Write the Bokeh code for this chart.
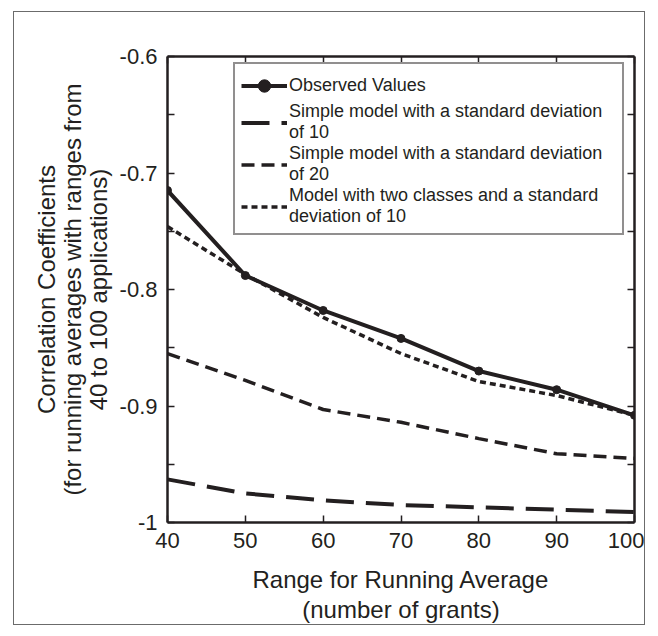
from bokeh.plotting import figure
from bokeh.models import (LinearAxis, FixedTicker, CustomJSTickFormatter, Legend,
                          LegendItem, Range1d, ColumnDataSource)
from bokeh.embed import file_html
from bokeh.resources import INLINE

# ---- data ----
grant_range = [40, 50, 60, 70, 80, 90, 100]
observed = [-0.715, -0.788, -0.818, -0.842, -0.870, -0.886, -0.908]
simple_sd10 = [-0.963, -0.975, -0.981, -0.985, -0.987, -0.989, -0.991]
simple_sd20 = [-0.855, -0.878, -0.903, -0.914, -0.928, -0.941, -0.945]
two_classes = [-0.746, -0.787, -0.824, -0.855, -0.879, -0.891, -0.908]

x_ticks = [40, 50, 60, 70, 80, 90, 100]
y_ticks = [-1.0, -0.9, -0.8, -0.7, -0.6]
y_tick_labels = ["-1", "-0.9", "-0.8", "-0.7", "-0.6"]
y_minor_ticks = [-0.95, -0.85, -0.75, -0.65]

series_labels = [
    "Observed Values",
    "Simple model with a standard deviation\nof 10",
    "Simple model with a standard deviation\nof 20",
    "Model with two classes and a standard\ndeviation of 10",
]

INK = "#231f20"
FONT = "Liberation Sans"

src = ColumnDataSource(dict(x=grant_range, obs=observed, sd10=simple_sd10,
                            sd20=simple_sd20, two=two_classes))

p = figure(width=632, height=614, output_backend="svg", toolbar_location=None,
           x_range=Range1d(40, 100), y_range=Range1d(-1, -0.6),
           x_axis_type=None, y_axis_type=None,
           min_border_left=153, min_border_right=12,
           min_border_top=44, min_border_bottom=103,
           background_fill_color="white", border_fill_color="white")
p.outline_line_color = None
p.styles = {"margin-left": "13px", "margin-top": "11px", "border": "1px solid #6b6b6b"}


def style_axis(ax, show_labels=True):
    ax.axis_line_width = 2.5
    ax.axis_line_color = INK
    ax.major_tick_in = 7
    ax.major_tick_out = 0
    ax.minor_tick_in = 7
    ax.minor_tick_out = 0
    ax.major_tick_line_width = 1.5
    ax.minor_tick_line_width = 1.5
    ax.major_tick_line_color = INK
    ax.minor_tick_line_color = INK
    ax.major_label_text_font = FONT
    ax.major_label_text_color = INK
    ax.major_label_text_font_size = "22px" if show_labels else "0px"
    ax.axis_label_text_font = FONT
    ax.axis_label_text_font_size = "24px"
    ax.axis_label_text_font_style = "normal"
    ax.axis_label_text_color = INK
    if not show_labels:
        ax.formatter = CustomJSTickFormatter(code="return ''")
        ax.major_label_standoff = 0


xb = LinearAxis(ticker=FixedTicker(ticks=x_ticks, minor_ticks=[]),
                axis_label="Range for Running Average\n(number of grants)")
style_axis(xb)
xb.axis_label_text_line_height = 1.14
xb.major_label_standoff = 10
xb.axis_label_standoff = 15
p.add_layout(xb, "below")

xt = LinearAxis(ticker=FixedTicker(ticks=x_ticks, minor_ticks=[]))
style_axis(xt, False)
p.add_layout(xt, "above")

yl = LinearAxis(ticker=FixedTicker(ticks=y_ticks, minor_ticks=y_minor_ticks),
                axis_label="Correlation Coefficients\n(for running averages with ranges from\n40 to 100 applications)")
style_axis(yl)
yl.axis_label_text_line_height = 0.96
yl.major_label_overrides = dict(zip(y_ticks, y_tick_labels))
yl.major_label_standoff = 10
yl.axis_label_standoff = 5
p.add_layout(yl, "left")

yr = LinearAxis(ticker=FixedTicker(ticks=y_ticks, minor_ticks=y_minor_ticks))
style_axis(yr, False)
p.add_layout(yr, "right")

r_sd10 = p.line("x", "sd10", source=src, line_color=INK, line_width=4,
                line_dash="28 12")
r_sd20 = p.line("x", "sd20", source=src, line_color=INK, line_width=3.5,
                line_dash="13 7")
r_obs = p.line("x", "obs", source=src, line_color=INK, line_width=4)
r_obs_pts = p.scatter("x", "obs", source=src, size=8, marker="circle",
                      fill_color=INK, line_color=INK)
r_two = p.line("x", "two", source=src, line_color=INK, line_width=3.5,
               line_dash="6 4")

legend = Legend(items=[
    LegendItem(label=series_labels[0], renderers=[r_obs, r_obs_pts]),
    LegendItem(label=series_labels[1], renderers=[r_sd10]),
    LegendItem(label=series_labels[2], renderers=[r_sd20]),
    LegendItem(label=series_labels[3], renderers=[r_two]),
], location=(66, 287))
legend.label_text_font = FONT
legend.label_text_font_size = "18px"
legend.label_text_color = INK
legend.label_text_line_height = 1.0
legend.glyph_width = 46
legend.glyph_height = 31
legend.label_standoff = 2
legend.label_width = 327
legend.spacing = 0
legend.padding = 6
legend.margin = 0
legend.border_line_color = INK
legend.border_line_width = 2
legend.background_fill_color = "white"
legend.background_fill_alpha = 1.0
p.add_layout(legend)

open("out.html", "w").write(file_html(p, INLINE))
